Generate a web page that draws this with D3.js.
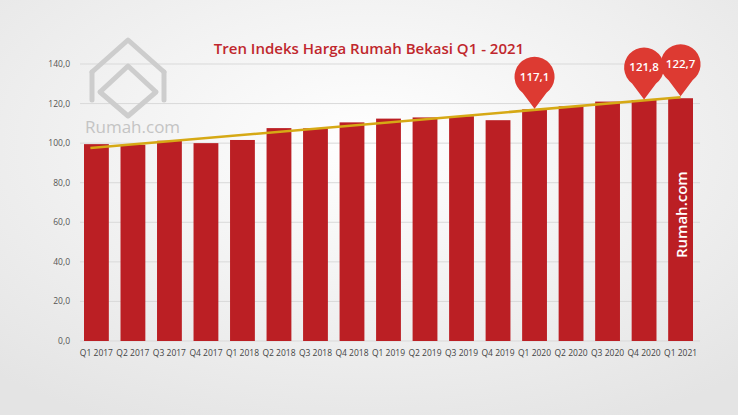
<!DOCTYPE html>
<html><head><meta charset="utf-8">
<script src="https://cdn.jsdelivr.net/npm/d3@7"></script>
<style>body{margin:0;background:#fff}svg{display:block;font-family:"Open Sans",sans-serif}</style>
</head><body><svg id="c" width="738" height="415"></svg>
<script>
var quarters = ['Q1 2017','Q2 2017','Q3 2017','Q4 2017','Q1 2018','Q2 2018','Q3 2018','Q4 2018','Q1 2019','Q2 2019','Q3 2019','Q4 2019','Q1 2020','Q2 2020','Q3 2020','Q4 2020','Q1 2021'];
var indeks = [99.5,99.2,101.2,100,101.6,107.6,107.5,110.5,112.4,113,113.6,111.6,117.1,118.6,121,121.8,122.7];
var yTicks = [0,20,40,60,80,100,120,140];
var pins = ['Q1 2020','Q4 2020','Q1 2021'];

var svg = d3.select('#c');
var defs = svg.append('defs');
var g = defs.append('radialGradient').attr('id','bg').attr('cx','50%').attr('cy','35%').attr('r','75%');
g.append('stop').attr('offset','0').attr('stop-color','#ffffff');
g.append('stop').attr('offset','1').attr('stop-color','#e4e4e4');
svg.append('rect').attr('width',738).attr('height',415).attr('fill','url(#bg)');

var x = d3.scaleBand().domain(quarters).range([84,693]).paddingInner(0.32).paddingOuter(0);
var y = d3.scaleLinear().domain([0,140]).range([341,64]);

svg.append('text').attr('x',369).attr('y',54).attr('text-anchor','middle')
  .attr('font-size',15).attr('font-weight',600).attr('fill','#c0272d')
  .text('Tren Indeks Harga Rumah Bekasi Q1 - 2021');

// grid
svg.append('g').selectAll('line').data(yTicks).enter().append('line')
  .attr('x1',80).attr('x2',700).attr('y1',d=>y(d)).attr('y2',d=>y(d))
  .attr('stroke','#d9d9d9').attr('stroke-width',1);
svg.append('g').selectAll('text').data(yTicks).enter().append('text')
  .attr('x',70).attr('y',d=>y(d)+3).attr('text-anchor','end')
  .attr('font-size',8.5).attr('fill','#555').text(d=>d3.format('.1f')(d).replace('.',','));

// logo watermark
var logo = svg.append('g').attr('fill','none').attr('stroke','#cdcdcd').attr('stroke-width',5).attr('stroke-linejoin','round').attr('stroke-linecap','round');
logo.append('path').attr('d','M92,72 L128,40 L164,72 M100,92 L128,66 L156,92 M100,92 L128,116 L156,92');
logo.append('path').attr('d','M92,72 L92,100 M164,72 L164,100');
svg.append('text').attr('x',85).attr('y',133).attr('font-size',17).attr('fill','#c4c4c4').text('Rumah.com');

// bars
svg.append('g').selectAll('rect').data(quarters).enter().append('rect')
  .attr('x',d=>x(d)).attr('width',x.bandwidth())
  .attr('y',(d,i)=>y(indeks[i])).attr('height',(d,i)=>y(0)-y(indeks[i]))
  .attr('fill','#bb1f24');

// x labels
svg.append('g').selectAll('text').data(quarters).enter().append('text')
  .attr('x',d=>x(d)+x.bandwidth()/2).attr('y',356).attr('text-anchor','middle')
  .attr('font-size',8.5).attr('fill','#444').text(d=>d);

// trend line (least squares)
var n = indeks.length, mx = (n-1)/2, my = d3.mean(indeks);
var b = d3.sum(indeks,(v,i)=>(i-mx)*(v-my))/d3.sum(indeks,(v,i)=>(i-mx)*(i-mx));
var a = my - b*mx;
var cx = i=>x(quarters[i])+x.bandwidth()/2;
svg.append('line').attr('x1',cx(0)-6).attr('y1',y(a-0.2*b)).attr('x2',cx(n-1)).attr('y2',y(a+b*(n-1)))
  .attr('stroke','#d6a915').attr('stroke-width',2.5);

// pins
pins.forEach(q=>{
  var i = quarters.indexOf(q), px = cx(i), py = y(a+b*i)-1, r = 20;
  var c = py-r-12;
  svg.append('path').attr('d',`M${px},${py} L${px-12},${c+16} A${r},${r} 0 1 1 ${px+12},${c+16} Z`).attr('fill','#dd3a32');
  svg.append('text').attr('x',px).attr('y',c+4).attr('text-anchor','middle').attr('font-size',11.5)
    .attr('font-weight',600).attr('fill','#fff').text(d3.format('.1f')(indeks[i]).replace('.',','));
});

svg.append('text').attr('transform',`translate(${cx(n-1)+6},258) rotate(-90)`).attr('font-size',15)
  .attr('font-weight',600).attr('fill','#fff').text('Rumah.com');
</script></body></html>
